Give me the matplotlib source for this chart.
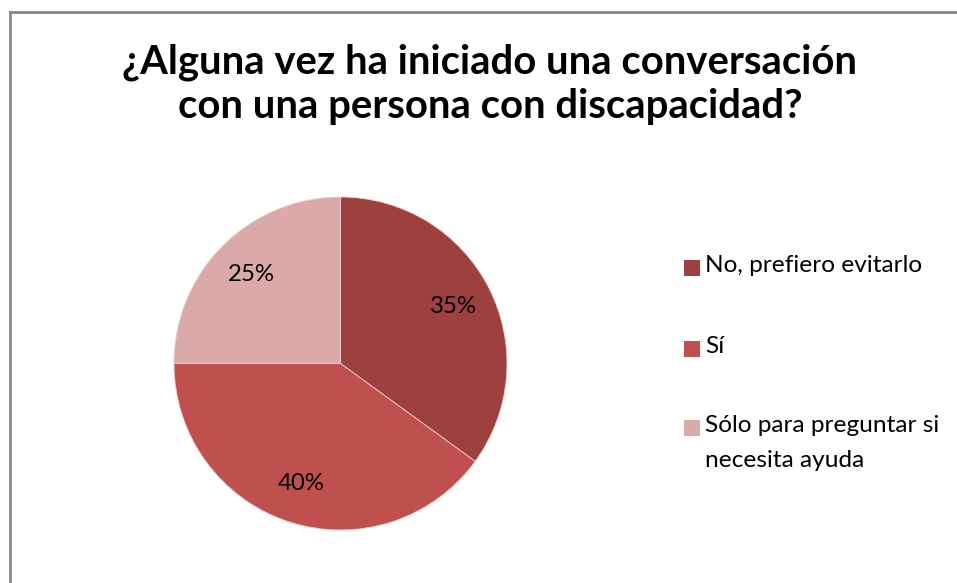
import matplotlib.pyplot as plt
from matplotlib.patches import Rectangle
from matplotlib.lines import Line2D

W, H = 957, 583

title = '¿Alguna vez ha iniciado una conversación\ncon una persona con discapacidad?'
labels = ['No, prefiero evitarlo', 'Sí', 'Sólo para preguntar si\nnecesita ayuda']
values = [35, 40, 25]
colors = ['#9E413E', '#C0504D', '#DAA9A8']

FONT = ['Lato', 'DejaVu Sans']
plt.rcParams['font.family'] = FONT

fig = plt.figure(figsize=(W / 100, H / 100), dpi=100)

# chart border (only top and left visible in crop)
fig.add_artist(Line2D([9.5 / W, 1], [1 - 11.5 / H, 1 - 11.5 / H], color='#878787', lw=2))
fig.add_artist(Line2D([9.5 / W, 9.5 / W], [0, 1 - 11.5 / H], color='#878787', lw=2))

fig.text(490 / W, 1 - 84 / H, title, ha='center', va='center', fontsize=28.8,
         fontweight='bold', linespacing=1.22)

# pie
cx, cy, r = 340.5, 363.5, 166.5
ax = fig.add_axes([(cx - r) / W, (H - cy - r) / H, 2 * r / W, 2 * r / H])
wedges, _, autotexts = ax.pie(values, colors=colors, startangle=90, counterclock=False,
                              radius=1, autopct='%d%%', pctdistance=0.76,
                              wedgeprops=dict(linewidth=0.6, edgecolor='#e8d0cf'),
                              textprops=dict(fontsize=17.3, color='black'))
ax.set_xlim(-1, 1)
ax.set_ylim(-1, 1)
ax.set_aspect('auto')
ax.axis('off')

# legend
ys = [268, 349, 428]
for w, lab, y in zip(wedges, labels, ys):
    fig.add_artist(Rectangle((684 / W, 1 - (y + 8) / H), 16 / W, 16 / H,
                             facecolor=w.get_facecolor(), edgecolor='none'))
    fig.text(705 / W, 1 - (y - 13) / H, lab, ha='left', va='top', fontsize=17.6,
             linespacing=1.85)

fig.savefig('out.png', dpi=100)
